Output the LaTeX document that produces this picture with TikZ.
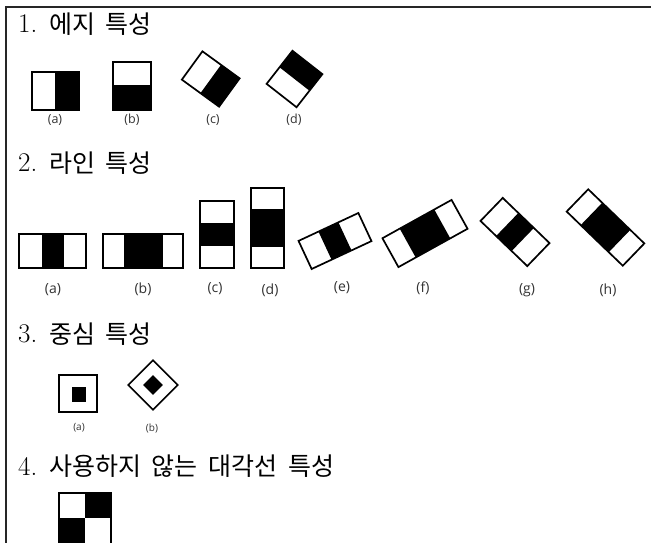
\documentclass[tikz,border=0pt]{standalone}
\usepackage{fontspec}
\newfontfamily\krfont[WordSpace=1.9]{Noto Sans CJK KR}
\newfontfamily\lblfont{Open Sans}
\usepackage{tikz}

\begin{document}
\begin{tikzpicture}[
    x=1pt, y=-1pt,
    frame/.style={draw=black, line width=1.7pt, line join=miter},
    blk/.style={fill=black},
    head/.style={anchor=west, inner sep=0pt, font=\fontsize{25}{26}\selectfont},
    num/.style={anchor=west, inner sep=0pt, font=\fontsize{27}{28}\selectfont},
    lbl/.style={inner sep=0pt, text=black!80, font=\lblfont\fontsize{12.5}{13}\selectfont},
    lblsm/.style={lbl, font=\lblfont\fontsize{10}{11}\selectfont},
    lblbig/.style={lbl, font=\lblfont\fontsize{14}{15}\selectfont}
  ]
  \path[fill=white] (0,0) rectangle (651,543);
  \useasboundingbox (0,0) rectangle (651,543);
  \draw[line width=2pt, black!85] (5.5,543) -- (5.5,7) -- (651,7);

  \node[num] (n1) at (18,24) {1.};
  \node[head] (h1) at (49,24) {\krfont 에지 특성};
  \node[num] (n2) at (18,163) {2.};
  \node[head] (h2) at (49,163) {\krfont 라인 특성};
  \node[num] (n3) at (18,334) {3.};
  \node[head] (h3) at (49,334) {\krfont 중심 특성};
  \node[num] (n4) at (18,466) {4.};
  \node[head] (h4) at (49,466) {\krfont 사용하지 않는 대각선 특성};

  \fill[blk] (55,72) rectangle (79,110);
  \draw[frame] (32,72) rectangle (79,110);
  \fill[blk] (113,85) rectangle (151,110);
  \draw[frame] (113,62) rectangle (151,110);
  \begin{scope}[shift={(210.75,79)}, rotate=-36]
    \fill[blk] (0,-17.5) rectangle (23,17.5);
    \draw[frame] (-23,-17.5) rectangle (23,17.5);
  \end{scope}
  \begin{scope}[shift={(294.5,79)}, rotate=52]
    \fill[blk] (0,-19) rectangle (21,19);
    \draw[frame] (-21,-19) rectangle (21,19);
  \end{scope}
  \node[lbl] (e-a) at (55,120) {(a)};
  \node[lbl] (e-b) at (132,120) {(b)};
  \node[lbl] (e-c) at (213,120) {(c)};
  \node[lbl] (e-d) at (294,120) {(d)};

  \fill[blk] (42,234) rectangle (64,268);
  \draw[frame] (19,234) rectangle (86,268);
  \fill[blk] (124,234) rectangle (163,268);
  \draw[frame] (103,234) rectangle (183,268);
  \fill[blk] (200,223) rectangle (234,246);
  \draw[frame] (200,201) rectangle (234,268);
  \fill[blk] (251,209) rectangle (284,247);
  \draw[frame] (251,188) rectangle (284,268);
  \begin{scope}[shift={(335,241)}, rotate=25]
    \fill[blk] (-11,-15.5) rectangle (11,15.5);
    \draw[frame] (-33,-15.5) rectangle (33,15.5);
  \end{scope}
  \begin{scope}[shift={(425,233.5)}, rotate=29]
    \fill[blk] (-19.75,-16.5) rectangle (19.75,16.5);
    \draw[frame] (-39.5,-16.5) rectangle (39.5,16.5);
  \end{scope}
  \begin{scope}[shift={(515,232)}, rotate=-44]
    \fill[blk] (-10.8,-16) rectangle (10.8,16);
    \draw[frame] (-32.5,-16) rectangle (32.5,16);
  \end{scope}
  \begin{scope}[shift={(605.5,227.5)}, rotate=-44]
    \fill[blk] (-19.5,-15.5) rectangle (19.5,15.5);
    \draw[frame] (-39,-15.5) rectangle (39,15.5);
  \end{scope}
  \node[lblbig] (l-a) at (53,290) {(a)};
  \node[lblbig] (l-b) at (143,289) {(b)};
  \node[lblbig] (l-c) at (215,289) {(c)};
  \node[lblbig] (l-d) at (270,290) {(d)};
  \node[lblbig] (l-e) at (342,288) {(e)};
  \node[lblbig] (l-f) at (423,288) {(f)};
  \node[lblbig] (l-g) at (527,290) {(g)};
  \node[lblbig] (l-h) at (608,290) {(h)};

  \fill[blk] (72,387) rectangle (86,402);
  \draw[frame] (59,375) rectangle (97,412);
  \begin{scope}[shift={(153,385)}, rotate=45]
    \fill[blk] (-7,-7) rectangle (7,7);
    \draw[frame] (-17.5,-17.5) rectangle (17.5,17.5);
  \end{scope}
  \node[lblsm] (c-a) at (79,428) {(a)};
  \node[lblsm] (c-b) at (152,428) {(b)};

  \fill[blk] (85,493) rectangle (111,518);
  \fill[blk] (59,518) rectangle (85,545);
  \draw[frame] (59,493) rectangle (111,545);
\end{tikzpicture}
\end{document}
